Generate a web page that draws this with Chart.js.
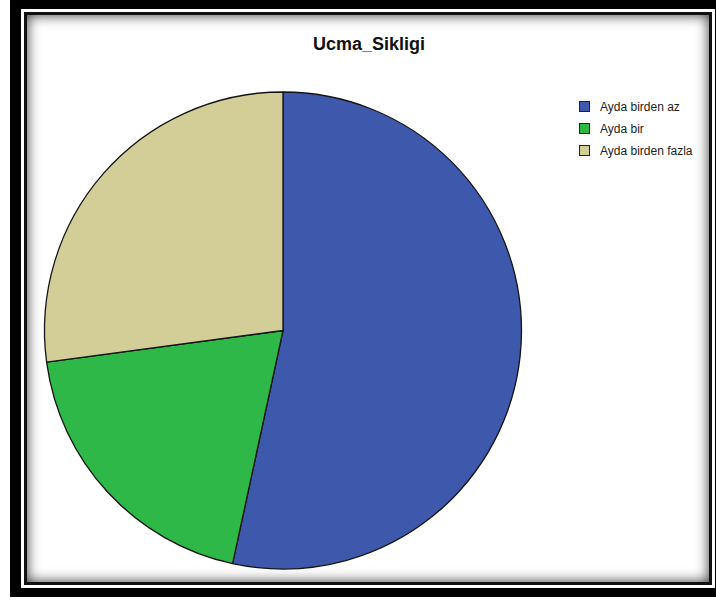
<!DOCTYPE html>
<html>
<head>
<meta charset="utf-8">
<title>Ucma_Sikligi</title>
<script src="https://cdn.jsdelivr.net/npm/chart.js@4.4.1/dist/chart.umd.min.js"></script>
<style>
body { margin: 0; background: #fff; font-family: "Liberation Sans", Arial, sans-serif; }
#page { position: relative; width: 716px; height: 600px; overflow: hidden; }
/* black outer frame, white gap, thin black inner border with soft shadow */
.frameOuter { position: absolute; left: 10px; top: 0; width: 716px; height: 597px; background: #000; }
.frameGap { position: absolute; left: 21px; top: 9px; width: 694px; height: 579px; background: #fff; }
.frameInner { position: absolute; left: 24px; top: 12px; width: 682px; height: 567px; border: 3px solid #111;
              background: #fff; box-shadow: inset 0 0 13px 0 rgba(0,0,0,0.8); }
#chartTitle { position: absolute; left: 0; width: 738px; top: 34px; text-align: center;
              font-weight: bold; font-size: 18px; color: #111; }
#legend { position: absolute; left: 579px; top: 100px; font-size: 12px; color: #222; }
#legend div { height: 22px; line-height: 15px; white-space: nowrap; }
#legend span.box { display: inline-block; width: 9px; height: 9px; border: 1px solid #222;
                   vertical-align: -1px; margin-right: 10px; }
canvas { position: absolute; left: 0; top: 0; }
</style>
</head>
<body>
<div id="page">
  <div class="frameOuter"></div>
  <div class="frameGap"></div>
  <div class="frameInner"></div>
  <div id="chartTitle">Ucma_Sikligi</div>
  <div id="legend"></div>
  <canvas id="pieChart" width="716" height="600"></canvas>
</div>
<script>
var categories = ["Ayda birden az", "Ayda bir", "Ayda birden fazla"];
var counts = [63, 23, 32];
var sliceColors = ["#3E58AC", "#2EB848", "#D3CE97"];

function buildLegend(divId) {
    var html = "";
    for (var i = 0; i < categories.length; i++) {
        html += '<div><span class="box" style="background:' + sliceColors[i] + '"></span>' + categories[i] + '</div>';
    }
    document.getElementById(divId).innerHTML = html;
}

function drawPie(canvasId) {
    var ctx = document.getElementById(canvasId).getContext('2d');
    var chart = new Chart(ctx, {
        type: 'pie',
        data: {
            labels: categories,
            datasets: [{
                data: counts,
                backgroundColor: sliceColors,
                borderColor: '#151515',
                borderWidth: 1.3,
                hoverOffset: 0,
                radius: 238.5
            }]
        },
        options: {
            responsive: false,
            devicePixelRatio: 1,
            animation: false,
            // pie centre sits at (283, 330.5)
            layout: { padding: { left: 46, right: 196, top: 93.5, bottom: 32.5 } },
            plugins: {
                legend: { display: false },
                title: { display: false },
                tooltip: { enabled: false }
            }
        }
    });
}

buildLegend("legend");
drawPie("pieChart");
</script>
</body>
</html>
